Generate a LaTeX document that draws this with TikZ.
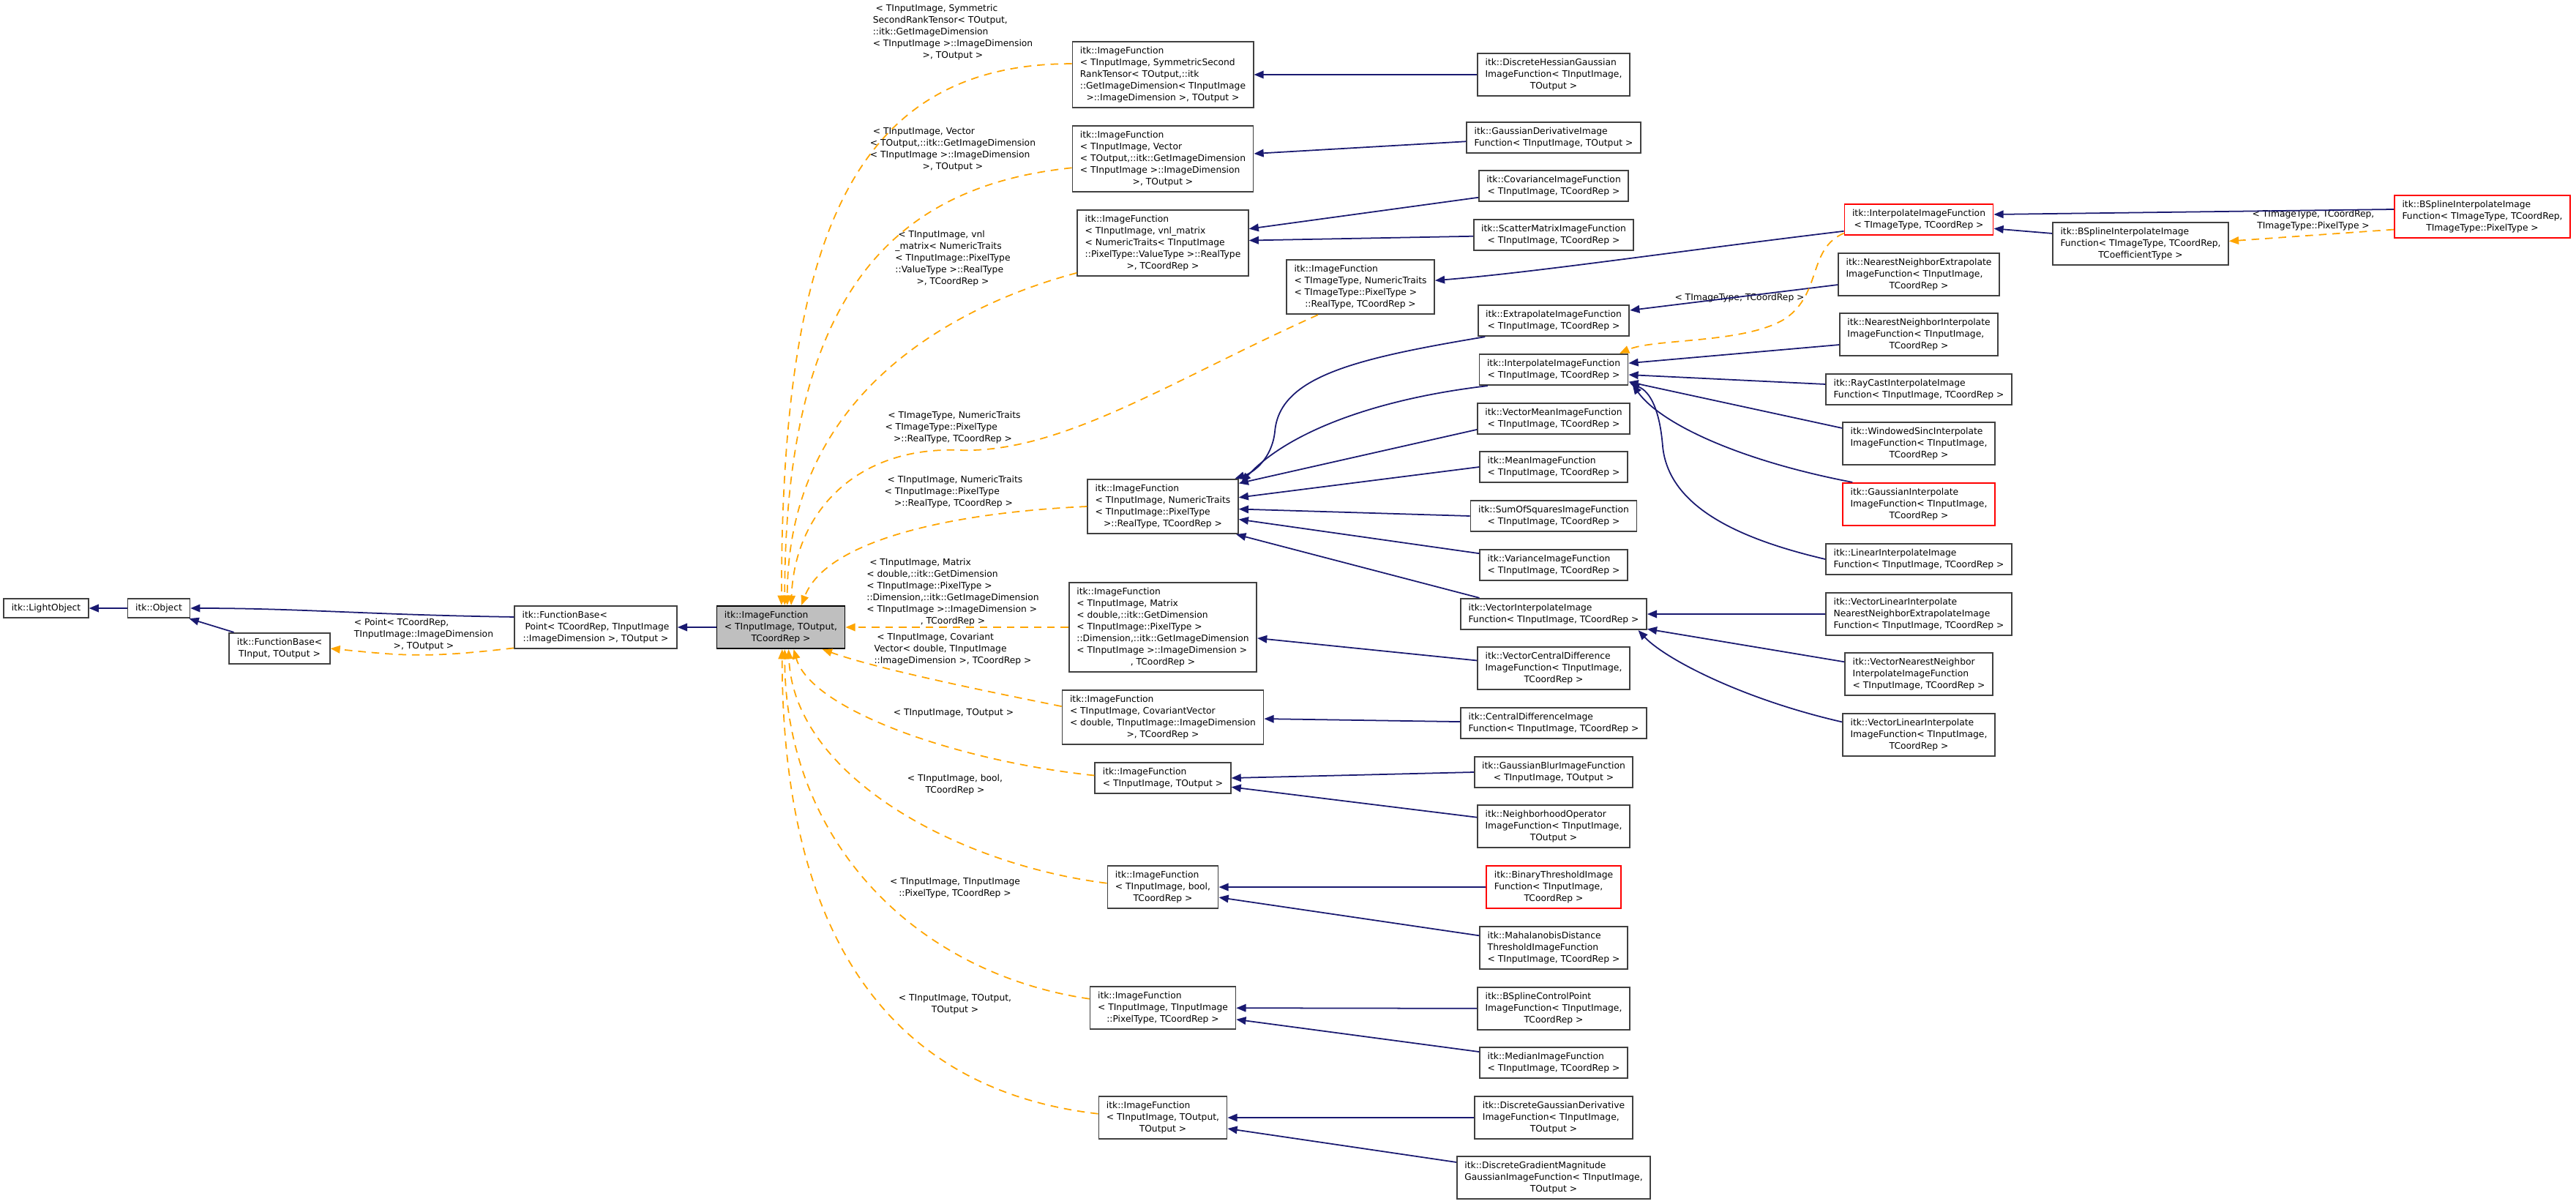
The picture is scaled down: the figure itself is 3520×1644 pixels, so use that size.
\documentclass[tikz,border=0pt]{standalone}
\usepackage{fontspec}
\setmainfont{DejaVu Sans}
\usepackage{tikz}
\usetikzlibrary{arrows.meta, positioning}
\definecolor{doxnavy}{HTML}{191970}
\definecolor{doxorange}{HTML}{FFA500}
\definecolor{doxgrey}{HTML}{BFBFBF}
\definecolor{doxframe}{HTML}{404040}
\newcommand{\gfont}{\fontsize{7}{9.1}\selectfont}
\newcommand{\ml}[2]{\begin{tabular}{@{}l@{}}#1\\\multicolumn{1}{@{}c@{}}{#2}\end{tabular}}
\newcommand{\oneline}[1]{\begin{tabular}{@{}c@{}}#1\end{tabular}}

\begin{document}
\begin{tikzpicture}[x=0.02cm, y=-0.02cm,
    cls/.style={draw=doxframe, fill=white, line width=1pt, inner xsep=6pt, inner ysep=3pt, font=\gfont},
    clsred/.style={cls, draw=red},
    clsgrey/.style={cls, draw=black, fill=doxgrey},
    lbl/.style={inner sep=0pt, font=\gfont},
    inh/.style={draw=doxnavy, line width=1pt, -{Triangle[length=7.5pt, width=6pt]}},
    tpl/.style={draw=doxorange, line width=1pt, dash pattern=on 6pt off 4.5pt, -{Triangle[length=7.5pt, width=6pt]}}]
  \useasboundingbox (0,0) rectangle (3520,1644);

  \node[cls] (lobj) at (63,831) {\oneline{itk::LightObject}};
  \node[cls] (obj) at (217,831) {\oneline{itk::Object}};
  \node[cls] (fbin) at (382,886) {\ml{itk::FunctionBase<}{TInput, TOutput >}};
  \node[cls] (fbpt) at (814,857) {\ml{itk::FunctionBase<\\\ Point< TCoordRep, TInputImage}{::ImageDimension >, TOutput >}};
  \node[clsgrey] (img) at (1067,857) {\ml{itk::ImageFunction\\< TInputImage, TOutput,}{TCoordRep >}};

  \node[cls] (if1) at (1589,102) {\ml{itk::ImageFunction\\< TInputImage, SymmetricSecond\\RankTensor< TOutput,::itk\\::GetImageDimension< TInputImage}{>::ImageDimension >, TOutput >}};
  \node[cls] (if2) at (1589,217) {\ml{itk::ImageFunction\\< TInputImage, Vector\\< TOutput,::itk::GetImageDimension\\< TInputImage >::ImageDimension}{>, TOutput >}};
  \node[cls] (if3) at (1589,332) {\ml{itk::ImageFunction\\< TInputImage, vnl\_matrix\\< NumericTraits< TInputImage\\::PixelType::ValueType >::RealType}{>, TCoordRep >}};
  \node[cls] (if4) at (1859,392) {\ml{itk::ImageFunction\\< TImageType, NumericTraits\\< TImageType::PixelType >}{::RealType, TCoordRep >}};
  \node[cls] (if5) at (1589,692) {\ml{itk::ImageFunction\\< TInputImage, NumericTraits\\< TInputImage::PixelType}{>::RealType, TCoordRep >}};
  \node[cls] (if6) at (1589,857) {\ml{itk::ImageFunction\\< TInputImage, Matrix\\< double,::itk::GetDimension\\< TInputImage::PixelType >\\::Dimension,::itk::GetImageDimension\\< TInputImage >::ImageDimension >}{, TCoordRep >}};
  \node[cls] (if7) at (1589,980) {\ml{itk::ImageFunction\\< TInputImage, CovariantVector\\< double, TInputImage::ImageDimension}{>, TCoordRep >}};
  \node[cls] (if8) at (1589,1063) {\ml{itk::ImageFunction}{< TInputImage, TOutput >}};
  \node[cls] (if9) at (1589,1212) {\ml{itk::ImageFunction\\< TInputImage, bool,}{TCoordRep >}};
  \node[cls] (if10) at (1589,1377) {\ml{itk::ImageFunction\\< TInputImage, TInputImage}{::PixelType, TCoordRep >}};
  \node[cls] (if11) at (1589,1527) {\ml{itk::ImageFunction\\< TInputImage, TOutput,}{TOutput >}};

  \node[cls] (dhg) at (2123,102) {\ml{itk::DiscreteHessianGaussian\\ImageFunction< TInputImage,}{TOutput >}};
  \node[cls] (gder) at (2123,188) {\ml{itk::GaussianDerivativeImage}{Function< TInputImage, TOutput >}};
  \node[cls] (cov) at (2123,254) {\ml{itk::CovarianceImageFunction}{< TInputImage, TCoordRep >}};
  \node[cls] (scat) at (2123,321) {\ml{itk::ScatterMatrixImageFunction}{< TInputImage, TCoordRep >}};
  \node[cls] (extr) at (2123,438) {\ml{itk::ExtrapolateImageFunction}{< TInputImage, TCoordRep >}};
  \node[cls] (interp) at (2123,505) {\ml{itk::InterpolateImageFunction}{< TInputImage, TCoordRep >}};
  \node[cls] (vmean) at (2123,572) {\ml{itk::VectorMeanImageFunction}{< TInputImage, TCoordRep >}};
  \node[cls] (mean) at (2123,638) {\ml{itk::MeanImageFunction}{< TInputImage, TCoordRep >}};
  \node[cls] (sos) at (2123,705) {\ml{itk::SumOfSquaresImageFunction}{< TInputImage, TCoordRep >}};
  \node[cls] (var) at (2123,772) {\ml{itk::VarianceImageFunction}{< TInputImage, TCoordRep >}};
  \node[cls] (vinterp) at (2123,839) {\ml{itk::VectorInterpolateImage}{Function< TInputImage, TCoordRep >}};
  \node[cls] (vcd) at (2123,913) {\ml{itk::VectorCentralDifference\\ImageFunction< TInputImage,}{TCoordRep >}};
  \node[cls] (cdiff) at (2123,988) {\ml{itk::CentralDifferenceImage}{Function< TInputImage, TCoordRep >}};
  \node[cls] (gblur) at (2123,1055) {\ml{itk::GaussianBlurImageFunction}{< TInputImage, TOutput >}};
  \node[cls] (nop) at (2123,1129) {\ml{itk::NeighborhoodOperator\\ImageFunction< TInputImage,}{TOutput >}};
  \node[clsred] (bthr) at (2123,1212) {\ml{itk::BinaryThresholdImage\\Function< TInputImage,}{TCoordRep >}};
  \node[cls] (mahal) at (2123,1295) {\ml{itk::MahalanobisDistance\\ThresholdImageFunction}{< TInputImage, TCoordRep >}};
  \node[cls] (bscp) at (2123,1378) {\ml{itk::BSplineControlPoint\\ImageFunction< TInputImage,}{TCoordRep >}};
  \node[cls] (median) at (2123,1452) {\ml{itk::MedianImageFunction}{< TInputImage, TCoordRep >}};
  \node[cls] (dgd) at (2123,1527) {\ml{itk::DiscreteGaussianDerivative\\ImageFunction< TInputImage,}{TOutput >}};
  \node[cls] (dgm) at (2123,1609) {\ml{itk::DiscreteGradientMagnitude\\GaussianImageFunction< TInputImage,}{TOutput >}};

  \node[clsred] (iit) at (2622,300) {\ml{itk::InterpolateImageFunction}{< TImageType, TCoordRep >}};
  \node[cls] (nnex) at (2622,375) {\ml{itk::NearestNeighborExtrapolate\\ImageFunction< TInputImage,}{TCoordRep >}};
  \node[cls] (nnin) at (2622,457) {\ml{itk::NearestNeighborInterpolate\\ImageFunction< TInputImage,}{TCoordRep >}};
  \node[cls] (ray) at (2622,532) {\ml{itk::RayCastInterpolateImage}{Function< TInputImage, TCoordRep >}};
  \node[cls] (wsinc) at (2622,606) {\ml{itk::WindowedSincInterpolate\\ImageFunction< TInputImage,}{TCoordRep >}};
  \node[clsred] (gint) at (2622,689) {\ml{itk::GaussianInterpolate\\ImageFunction< TInputImage,}{TCoordRep >}};
  \node[cls] (lint) at (2622,764) {\ml{itk::LinearInterpolateImage}{Function< TInputImage, TCoordRep >}};
  \node[cls] (vlnne) at (2622,839) {\ml{itk::VectorLinearInterpolate\\NearestNeighborExtrapolateImage}{Function< TInputImage, TCoordRep >}};
  \node[cls] (vnni) at (2622,921) {\ml{itk::VectorNearestNeighbor\\InterpolateImageFunction}{< TInputImage, TCoordRep >}};
  \node[cls] (vli) at (2622,1004) {\ml{itk::VectorLinearInterpolate\\ImageFunction< TInputImage,}{TCoordRep >}};

  \node[cls] (bsc) at (2925,333) {\ml{itk::BSplineInterpolateImage\\Function< TImageType, TCoordRep,}{TCoefficientType >}};
  \node[clsred] (bsp) at (3392,296) {\ml{itk::BSplineInterpolateImage\\Function< TImageType, TCoordRep,}{TImageType::PixelType >}};

  \node[lbl] (lfb) at (579,867) {\ml{< Point< TCoordRep,\\TInputImage::ImageDimension}{>, TOutput >}};
  \node[lbl] (lif1) at (1302,44) {\ml{\ < TInputImage, Symmetric\\SecondRankTensor< TOutput,\\::itk::GetImageDimension\\< TInputImage >::ImageDimension}{>, TOutput >}};
  \node[lbl] (lif2) at (1302,204) {\ml{\ < TInputImage, Vector\\< TOutput,::itk::GetImageDimension\\< TInputImage >::ImageDimension}{>, TOutput >}};
  \node[lbl] (lif3) at (1302,353) {\ml{\ < TInputImage, vnl\\\_matrix< NumericTraits\\< TInputImage::PixelType\\::ValueType >::RealType}{>, TCoordRep >}};
  \node[lbl] (lif4) at (1302,584) {\ml{\ < TImageType, NumericTraits\\< TImageType::PixelType}{>::RealType, TCoordRep >}};
  \node[lbl] (lif5) at (1303,672) {\ml{\ < TInputImage, NumericTraits\\< TInputImage::PixelType}{>::RealType, TCoordRep >}};
  \node[lbl] (lif6) at (1302,809) {\ml{\ < TInputImage, Matrix\\< double,::itk::GetDimension\\< TInputImage::PixelType >\\::Dimension,::itk::GetImageDimension\\< TInputImage >::ImageDimension >}{, TCoordRep >}};
  \node[lbl] (lif7) at (1302,887) {\ml{\ < TInputImage, Covariant\\Vector< double, TInputImage}{::ImageDimension >, TCoordRep >}};
  \node[lbl] (lif8) at (1303,974) {\oneline{< TInputImage, TOutput >}};
  \node[lbl] (lif9) at (1305,1072) {\ml{< TInputImage, bool,}{TCoordRep >}};
  \node[lbl] (lif10) at (1305,1213) {\ml{< TInputImage, TInputImage}{::PixelType, TCoordRep >}};
  \node[lbl] (lif11) at (1305,1372) {\ml{< TInputImage, TOutput,}{TOutput >}};
  \node[lbl] (liit) at (2377,407) {\oneline{< TImageType, TCoordRep >}};
  \node[lbl] (lbsp) at (3161,301) {\ml{< TImageType, TCoordRep,}{TImageType::PixelType >}};

  \draw[inh] (obj) -- (lobj);
  \draw[inh] ([yshift=8pt]fbpt.west) .. controls +(-200,-3) and +(150,0) .. (obj.east);
  \draw[inh] ([xshift=4pt]fbin.north west) -- ([xshift=-1pt]obj.south east);
  \draw[tpl] ([yshift=1pt]fbpt.south west) .. controls +(-120,14) and +(100,10) .. (fbin.east);
  \draw[inh] (img) -- (fbpt);

  \draw[tpl] ([yshift=8.5pt]if1.west) .. controls +(-300,0) and +(0,-500) .. ([xshift=0.5pt]img.north);
  \draw[tpl] ([yshift=-7pt]if2.west) .. controls +(-240,25) and +(0,-430) .. ([xshift=3pt]img.north);
  \draw[tpl] ([yshift=3pt]if3.south west) .. controls +(-150,40) and +(0,-300) .. ([xshift=5pt]img.north);
  \draw[tpl] ([xshift=25pt]if4.south west) .. controls (1600,520) and (1450,620) .. (1310,615) .. controls (1170,610) and (1086,700) .. ([xshift=8pt]img.north);
  \draw[tpl] (if5.west) .. controls +(-180,8) and +(34,-90) .. ([xshift=16pt]img.north);
  \draw[tpl] (if6) -- (img);
  \draw[tpl] ([yshift=8.5pt]if7.west) .. controls +(-100,-20) and +(75,27) .. ([xshift=-18pt]img.south east);
  \draw[tpl] ([yshift=2pt]if8.west) .. controls +(-190,-20) and +(23,82) .. ([xshift=10pt]img.south);
  \draw[tpl] ([yshift=3pt]if9.west) .. controls +(-206,-26) and +(7,172) .. ([xshift=6pt]img.south);
  \draw[tpl] ([yshift=7pt]if10.west) .. controls +(-238,-35) and +(0,262) .. ([xshift=3pt]img.south);
  \draw[tpl] ([yshift=3pt]if11.west) .. controls +(-269,-31) and +(0,412) .. ([xshift=1pt]img.south);

  \draw[inh] (dhg) -- (if1);
  \draw[inh] ([yshift=-3pt]gder.west) -- ([yshift=4pt]if2.east);
  \draw[inh] ([yshift=-9pt]cov.west) -- ([yshift=11pt]if3.east);
  \draw[inh] ([yshift=-1pt]scat.west) -- ([yshift=2pt]if3.east);
  \draw[inh] ([yshift=-9pt]iit.west) .. controls (2300,342) and (2100,372) .. ([yshift=5pt]if4.east);
  \draw[inh] ([xshift=6pt]extr.south west) .. controls (1850,490) and (1748,515) .. (1742,590) .. controls (1738,625) and (1715,645) .. ([xshift=-3pt]if5.north east);
  \draw[inh] ([xshift=7pt]interp.south west) .. controls (1880,545) and (1760,590) .. ([xshift=2pt,yshift=-3pt]if5.north east);
  \draw[inh] ([yshift=-8.5pt]vmean.west) -- ([yshift=18pt]if5.east);
  \draw[inh] (mean.west) -- ([yshift=7pt]if5.east);
  \draw[inh] (sos.west) -- ([yshift=-2pt]if5.east);
  \draw[inh] ([yshift=9pt]var.west) -- ([yshift=-10pt]if5.east);
  \draw[inh] ([xshift=15pt]vinterp.north west) -- ([xshift=-2pt]if5.south east);
  \draw[inh] ([yshift=6pt]vcd.west) -- ([yshift=-8.5pt]if6.east);
  \draw[inh] (cdiff) -- (if7);
  \draw[inh] (gblur.west) -- (if8.east);
  \draw[inh] ([yshift=7pt]nop.west) -- ([yshift=-7pt]if8.east);
  \draw[inh] (bthr) -- (if9);
  \draw[inh] ([yshift=9.5pt]mahal.west) -- ([yshift=-8pt]if9.east);
  \draw[inh] (bscp) -- (if10);
  \draw[inh] ([yshift=8.5pt]median.west) -- ([yshift=-9pt]if10.east);
  \draw[inh] (dgd) -- (if11);
  \draw[inh] ([yshift=12pt]dgm.west) -- ([yshift=-8.5pt]if11.east);

  \draw[inh] ([yshift=-8pt]nnex.west) -- ([yshift=8pt]extr.east);
  \draw[tpl] ([yshift=2pt]iit.south west) .. controls (2470,340) and (2490,400) .. (2440,435) .. controls (2385,470) and (2260,462) .. ([xshift=-7pt]interp.north east);
  \draw[inh] ([yshift=-8pt]nnin.west) -- ([yshift=5pt]interp.east);
  \draw[inh] ([yshift=4pt]ray.west) -- ([yshift=-4pt]interp.east);
  \draw[inh] ([yshift=12pt]wsinc.west) -- ([yshift=-9.5pt]interp.east);
  \draw[inh] ([xshift=8pt]gint.north west) .. controls (2380,630) and (2270,580) .. ([xshift=3pt,yshift=1pt]interp.south east);
  \draw[inh] (lint.west) .. controls (2370,735) and (2280,690) .. (2272,610) .. controls (2268,560) and (2255,535) .. ([xshift=1pt,yshift=2pt]interp.south east);
  \draw[inh] ([yshift=8pt]bsc.west) -- ([yshift=-7pt]iit.east);
  \draw[inh] ([yshift=5.7pt]bsp.west) -- ([yshift=4pt]iit.east);
  \draw[tpl] ([yshift=-10pt]bsp.west) -- ([yshift=2pt]bsc.east);

  \draw[inh] (vlnne) -- (vinterp);
  \draw[inh] ([yshift=9.5pt]vnni.west) -- ([yshift=1pt]vinterp.south east);
  \draw[inh] ([yshift=10pt]vli.west) .. controls (2380,955) and (2275,900) .. ([xshift=-7pt]vinterp.south east);
\end{tikzpicture}
\end{document}
